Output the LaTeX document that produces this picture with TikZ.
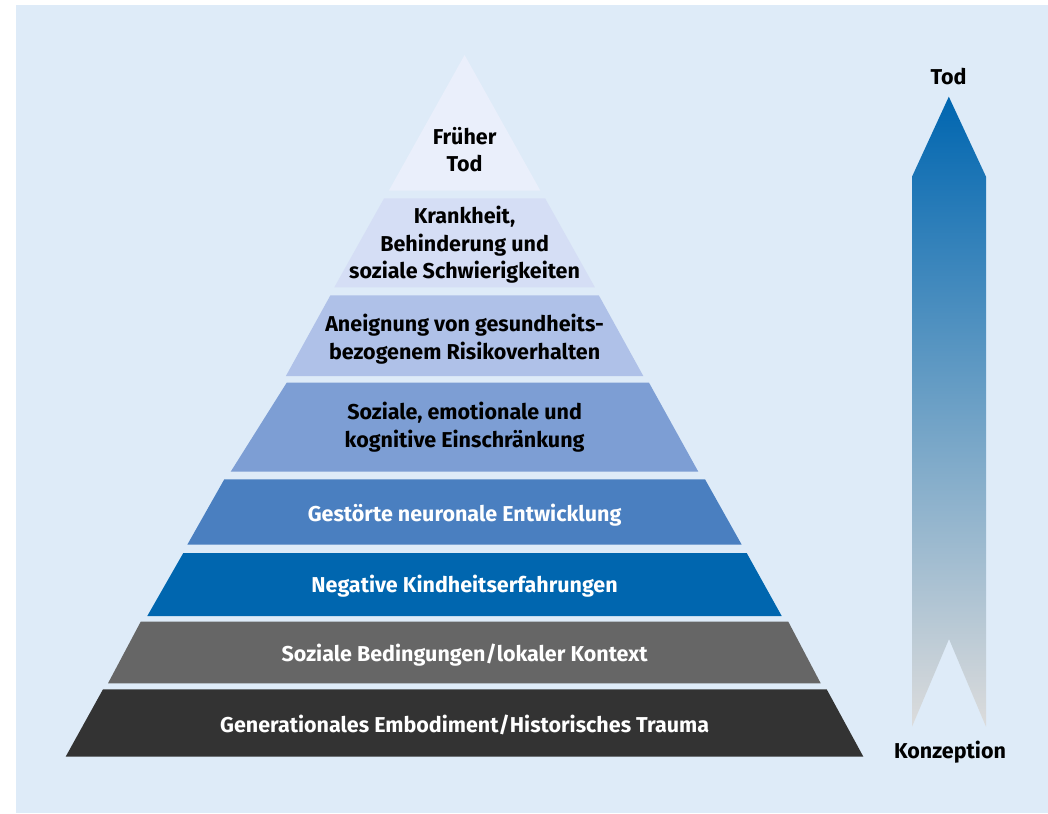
\documentclass[tikz,border=0pt]{standalone}
\usepackage{fontspec}
\setmainfont{Fira Sans}
\usepackage{xcolor}
\usepackage{tikz}
\usetikzlibrary{positioning}

\definecolor{bgblue}{HTML}{DEEBF8}
\definecolor{tierA}{HTML}{EAEFFB}
\definecolor{tierB}{HTML}{D5DEF5}
\definecolor{tierC}{HTML}{AFC1E8}
\definecolor{tierD}{HTML}{7D9ED4}
\definecolor{tierE}{HTML}{4A7FC0}
\definecolor{tierF}{HTML}{0066AF}
\definecolor{tierG}{HTML}{666666}
\definecolor{tierH}{HTML}{333333}
\definecolor{arrowtop}{HTML}{0066B0}
\definecolor{arrowmid}{HTML}{70A4CC}
\definecolor{arrowbot}{HTML}{DCDCDC}

\begin{document}
\begin{tikzpicture}[x=1pt, y=-1pt]

\tikzstyle{every node}=[font=\fontsize{21.5}{27.5}\selectfont\bfseries, align=center, inner sep=0]
\tikzstyle{dark text}=[text=black]
\tikzstyle{light text}=[text=white]

\useasboundingbox (0,0) rectangle (1048,813);
\fill[white] (0,0) rectangle (1048,813);
\fill[bgblue] (16,5) rectangle (1048,813);

% layers %
\fill[tierA] (464.6,55) -- (540.4,190.7) -- (388.8,190.7) -- cycle;
\fill[tierB] (384.1,198.3) -- (545.1,198.3) -- (594.9,287.3) -- (334.3,287.3) -- cycle;
\fill[tierC] (330.4,295.3) -- (598.8,295.3) -- (643.3,376) -- (285.9,376) -- cycle;
\fill[tierD] (286.7,382.7) -- (649,382.7) -- (698.3,471.7) -- (230.7,471.7) -- cycle;
\fill[tierE] (224.3,479.3) -- (705,479.3) -- (741.7,544.7) -- (187.3,544.7) -- cycle;
\fill[tierF] (183.3,553) -- (746.7,553) -- (781.7,616) -- (147.3,616) -- cycle;
\fill[tierG] (140.7,621.7) -- (788.3,621.7) -- (820.7,683.3) -- (108,683.3) -- cycle;
\fill[tierH] (103,689.3) -- (826.7,689.3) -- (863.3,756.6) -- (65.7,756.6) -- cycle;

% nodes %
\node[dark text] (tod) at (464.6,149.5) {Früher\\Tod};
\node[dark text] (krank) at (464.6,245) {Krankheit,\\Behinderung und\\soziale Schwierigkeiten};
\node[dark text] (risiko) at (464.6,339) {Aneignung von gesundheits-\\bezogenem Risikoverhalten};
\node[dark text] (einschr) at (464.6,427) {Soziale, emotionale und\\kognitive Einschränkung};
\node[light text] (neuro) at (464.6,515.5) {Gestörte neuronale Entwicklung};
\node[light text] (kindheit) at (464.6,586.5) {Negative Kindheitserfahrungen};
\node[light text] (sozial) at (464.6,655.5) {Soziale Bedingungen/lokaler Kontext};
\node[light text] (trauma) at (464.6,724.5) {Generationales Embodiment/Historisches Trauma};

% arrow %
\shade[top color=arrowtop, middle color=arrowmid, bottom color=arrowbot]
  (948.8,96.7) -- (986,176.7) -- (986,726.7) -- (949,639) -- (912,726.7) -- (912,176.7) -- cycle;
\node[dark text] (ende) at (948.5,76.5) {Tod};
\node[dark text] (anfang) at (950,752) {Konzeption};

\end{tikzpicture}
\end{document}
